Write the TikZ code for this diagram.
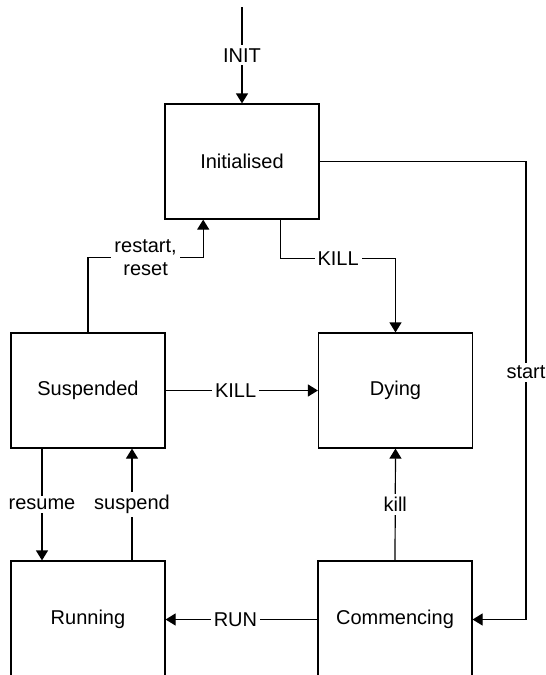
\documentclass[tikz,border=0pt]{standalone}
\usepackage{fontspec}
\setmainfont{Liberation Sans}
\usetikzlibrary{arrows.meta,calc}

\begin{document}
\begin{tikzpicture}[x=1pt,y=-1pt,
  state/.style={draw, line width=1.2pt, minimum width=154pt, minimum height=115pt,
                inner sep=0pt, font=\fontsize{20}{23}\selectfont},
  lbl/.style={fill=white, inner sep=3pt, font=\fontsize{20}{23}\selectfont},
  trans/.style={line width=1.2pt, -{Triangle[length=10pt,width=12pt]}}]

  \useasboundingbox (0,0) rectangle (546,675);

  % states
  \node[state] (init)  at (242,161.5) {Initialised};
  \node[state] (susp)  at (88,390.5)  {Suspended};
  \node[state] (dying) at (395.5,390.5) {Dying};
  \node[state, minimum height=117pt] (run)  at (88,619.5)  {Running};
  \node[state, minimum height=117pt] (comm) at (395,619.5) {Commencing};

  % entry point and corner of the start transition
  \coordinate (entry) at (242,7);
  \coordinate (sc) at (526,161.5);

  % transitions
  \draw[trans] (entry) -- node[lbl]{INIT} (init);

  \draw[trans] ($(init.south west)!0.75!(init.south east)$) -- ++(0,39)
      -| node[lbl,pos=0.25]{KILL} (dying.north);

  \draw[trans] (susp.north) -- ++(0,-75)
      -| node[lbl,pos=0.25,align=center]{restart,\\reset}
      ($(init.south west)!0.25!(init.south east)$);

  \draw[trans] (susp) -- node[lbl,pos=0.46]{KILL} (dying);

  \draw[trans] (init.east) -- (sc) |- node[lbl,pos=0.23]{start} (comm.east);

  \draw[trans] ([xshift=-46pt]susp.south) -- node[lbl]{resume} ([xshift=-46pt]run.north);
  \draw[trans] ([xshift=44pt]run.north) -- node[lbl]{suspend} ([xshift=44pt]susp.south);

  \draw[trans] (comm.north) -- node[lbl]{kill} (dying.south);

  \draw[trans] (comm.west) -- node[lbl,pos=0.54]{RUN} (run.east);
\end{tikzpicture}
\end{document}
